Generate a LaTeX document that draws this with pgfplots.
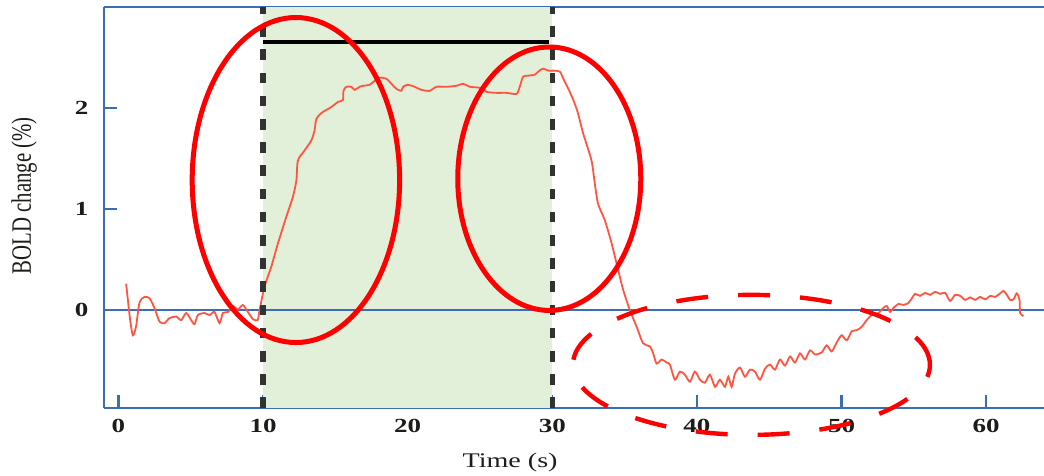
\documentclass[border=0pt]{standalone}
\usepackage{pgfplots}
\pgfplotsset{compat=1.18}
\usepackage{fontspec}
\setmainfont{Liberation Serif}
\definecolor{axblue}{RGB}{58,110,180}
\definecolor{curvered}{RGB}{255,85,65}
\definecolor{boxgreen}{RGB}{226,239,217}
\definecolor{dashgray}{RGB}{50,50,50}
\definecolor{txt}{RGB}{30,28,25}
\begin{document}
\begin{tikzpicture}
\begin{axis}[
  at={(0,0)}, anchor=south west,
  scale only axis, width=470pt, height=200.5pt,
  xmin=-1, xmax=64, ymin=-0.97, ymax=3,
  axis x line*=box, axis y line*=left,
  axis line style={-, draw=axblue, line width=1.3pt},
  tick pos=left, tick align=inside,
  major tick length=6.5pt,
  every tick/.style={axblue, line width=1.1pt},
  xtick={0,10,20,30,40,50,60},
  ytick={0,1,2},
  /pgf/number format/assume math mode=true,
  xticklabel style={font=\fontsize{10}{12}\selectfont\bfseries, text=txt, yshift=-2pt, xscale=1.35},
  yticklabel style={font=\fontsize{10}{12}\selectfont\bfseries, text=txt, xshift=-3pt, xscale=1.35},
  every axis x label/.style={at={(axis description cs:0.432,-0.135)}, anchor=center, xscale=1.35, font=\fontsize{10.4}{12}\selectfont, text=txt},
  every axis y label/.style={at={(axis description cs:-0.085,0.529)}, rotate=90, yscale=1.35, anchor=center, font=\fontsize{10.4}{12}\selectfont, text=txt},
  xlabel={Time (s)},
  ylabel={BOLD change (\%)},
  clip=false,
]
\fill[boxgreen] (axis cs:10,-0.97) rectangle (axis cs:30,3);
\draw[axblue, line width=1pt] (axis cs:-1,0) -- (axis cs:64,0);
\draw[black, line width=2pt] (axis cs:10,2.65) -- (axis cs:29.8,2.65);
\addplot[curvered, line width=0.9pt, smooth, tension=0.45, mark=none] coordinates {
(0.53,0.26) (0.81,-0.10) (1.00,-0.25) (1.22,-0.16) (1.45,0.07) (1.80,0.13) (2.15,0.115) (2.49,0.02) (2.84,-0.115) (3.18,-0.13) (3.53,-0.08) (3.99,-0.065) (4.34,-0.10) (4.68,-0.03) (5.03,-0.10) (5.26,-0.14) (5.49,-0.05) (5.95,-0.03) (6.30,-0.05) (6.64,-0.02) (6.99,-0.13) (7.22,-0.03) (7.57,-0.02) (7.91,0.04) (8.26,0.005) (8.60,0.05) (8.95,-0.02) (9.30,-0.09) (9.62,-0.10) (9.76,0.0) (10.10,0.23)
(10.57,0.43) (11.03,0.66) (11.60,0.92) (12.06,1.12) (12.30,1.28) (12.41,1.48) (12.87,1.58) (13.34,1.68) (13.56,1.78) (13.68,1.89) (14.03,1.95) (14.72,2.01) (15.18,2.06) (15.52,2.08) (15.56,2.17) (15.76,2.21) (16.10,2.21) (16.33,2.18) (16.68,2.21) (16.91,2.22) (17.37,2.23) (17.72,2.27) (18.06,2.30) (18.53,2.29) (18.87,2.24) (19.22,2.19) (19.56,2.17) (19.68,2.21) (20.02,2.23) (20.48,2.21) (20.95,2.18) (21.52,2.17) (21.99,2.21) (22.68,2.21) (23.37,2.22) (23.83,2.24) (24.29,2.21) (24.98,2.20) (25.45,2.16) (26.14,2.15) (26.83,2.15) (27.52,2.14) (27.75,2.21) (27.98,2.31) (28.33,2.32) (28.79,2.33) (29.02,2.36) (29.36,2.39) (29.71,2.37) (30.06,2.37) (30.52,2.36) (30.76,2.29) (31.21,2.16) (31.56,2.04) (31.79,1.94) (32.13,1.75) (32.71,1.48) (32.94,1.25) (33.17,1.05) (33.63,0.89) (34.10,0.66) (34.55,0.40) (34.90,0.20) (35.36,0.0) (35.83,-0.165) (36.28,-0.33) (36.75,-0.36) (36.98,-0.43) (37.21,-0.53) (37.56,-0.49) (37.90,-0.52) (38.13,-0.54) (38.48,-0.69) (38.82,-0.61) (39.17,-0.64) (39.52,-0.71) (39.86,-0.61) (40.21,-0.69) (40.55,-0.72) (40.90,-0.64) (41.25,-0.76) (41.59,-0.69) (41.94,-0.76) (42.17,-0.66) (42.40,-0.76) (42.63,-0.63) (42.98,-0.57) (43.32,-0.66) (43.67,-0.59) (44.01,-0.61) (44.36,-0.69) (44.71,-0.58) (45.05,-0.54) (45.40,-0.59) (45.74,-0.49) (46.09,-0.55) (46.44,-0.46) (46.78,-0.52) (47.13,-0.43) (47.47,-0.49) (47.82,-0.40) (48.17,-0.44) (48.63,-0.42) (48.97,-0.35) (49.32,-0.41) (49.67,-0.32) (50.01,-0.25) (50.36,-0.30) (50.71,-0.21) (51.05,-0.20) (51.40,-0.165) (51.74,-0.10) (52.09,-0.05) (52.55,-0.03) (52.89,0.02) (53.13,0.04) (53.36,-0.02) (53.59,0.02) (53.93,0.06) (54.28,0.05) (54.62,0.07) (54.86,0.115) (55.09,0.16) (55.43,0.14) (55.78,0.17) (56.12,0.15) (56.47,0.18) (56.82,0.16) (57.16,0.17) (57.51,0.09) (57.85,0.15) (58.20,0.14) (58.55,0.10) (58.89,0.125) (59.24,0.10) (59.58,0.13) (59.93,0.105) (60.28,0.14) (60.62,0.13) (60.97,0.165) (61.20,0.19) (61.43,0.15) (61.66,0.10) (61.89,0.105) (62.12,0.165) (62.31,0.10) (62.35,-0.03) (62.58,-0.06)
};
\draw[dashgray, line width=2.8pt, dash pattern=on 5.3pt off 6.3pt] (axis cs:10,-0.97) -- (axis cs:10,3);
\draw[dashgray, line width=2.8pt, dash pattern=on 5.3pt off 6.3pt] (axis cs:30,-0.97) -- (axis cs:30,3);
\draw[red, line width=2.5pt] (axis cs:12.27,1.287) ellipse [x radius=51.85pt, y radius=81.25pt];
\draw[red, line width=2.5pt] (axis cs:29.79,1.30) ellipse [x radius=45.75pt, y radius=65.85pt];
\draw[red, line width=2.2pt, dash pattern=on 16pt off 15pt] (axis cs:43.77,-0.543) ellipse [x radius=89.25pt, y radius=35pt];
\end{axis}
\pgfresetboundingbox
\path[use as bounding box] (-52pt,-34pt) rectangle (470pt,204pt);
\end{tikzpicture}
\end{document}
